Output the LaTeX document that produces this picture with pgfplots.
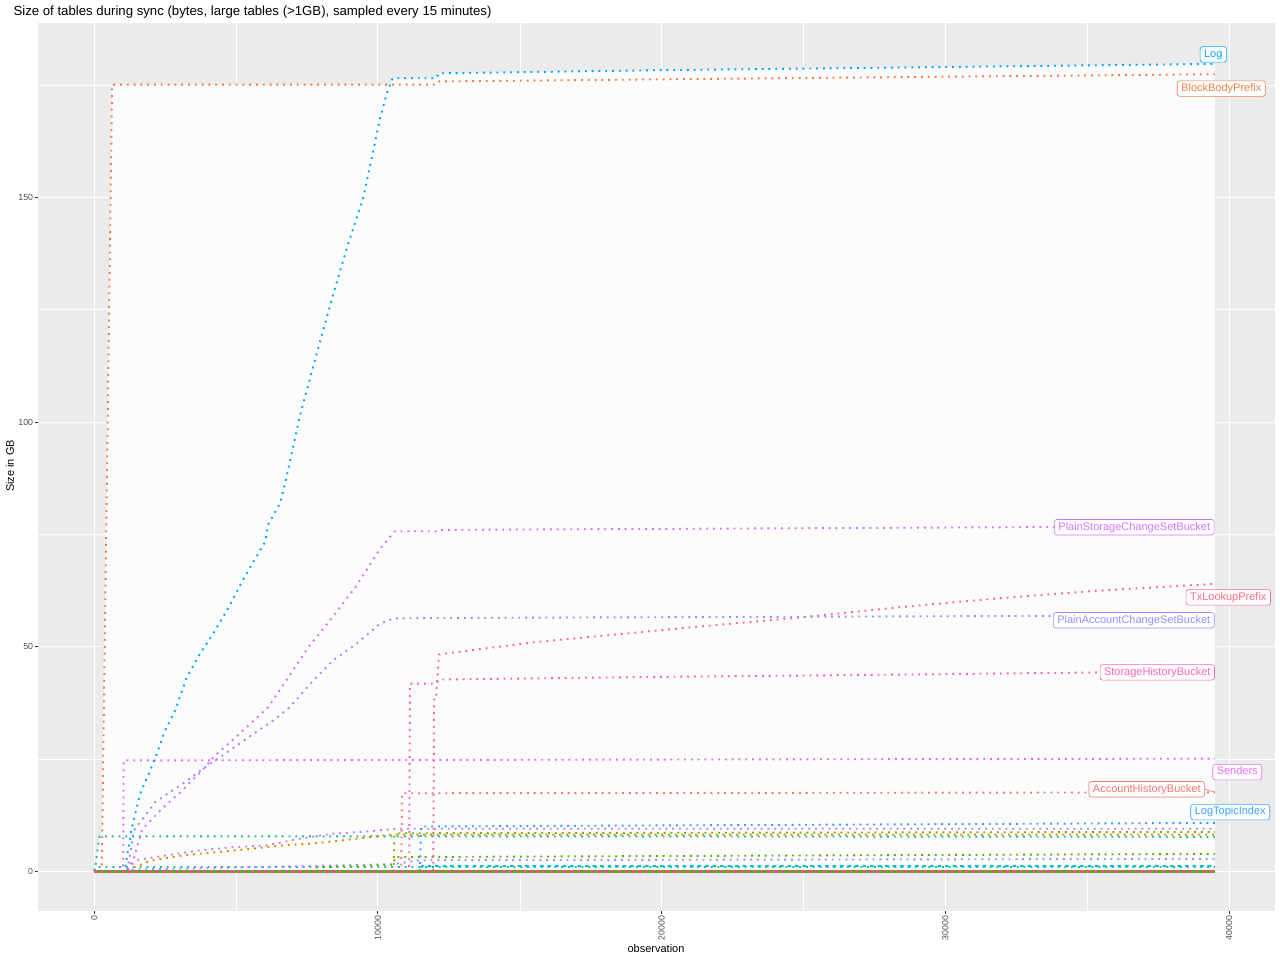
\documentclass[border=0pt]{standalone}
\usepackage{fontspec}
\setmainfont{Liberation Sans}
\usepackage{pgfplots}
\pgfplotsset{compat=1.18}
\definecolor{panelbg}{HTML}{EBEBEB}
\definecolor{tickc}{HTML}{333333}
\definecolor{ticktxt}{HTML}{4D4D4D}
\definecolor{cAHB}{HTML}{F8766D}
\definecolor{cBBP}{HTML}{EE7F45}
\definecolor{cLog}{HTML}{00A9FF}
\definecolor{cLTI}{HTML}{35A2FF}
\definecolor{cPAC}{HTML}{9590FF}
\definecolor{cPSC}{HTML}{D376FF}
\definecolor{cSnd}{HTML}{E76BF3}
\definecolor{cSHB}{HTML}{FF62BC}
\definecolor{cTxL}{HTML}{FC6C85}
\definecolor{cTeal}{HTML}{1DBB9B}
\definecolor{cOrg}{HTML}{E08A00}
\definecolor{cVio}{HTML}{C27DFF}
\definecolor{cVio2}{HTML}{A88AFF}
\definecolor{cGrn}{HTML}{7CAE00}
\definecolor{cGrn2}{HTML}{53B400}
\definecolor{cCyan}{HTML}{00BCD8}
\definecolor{cPink}{HTML}{F1508E}
\definecolor{envfill}{HTML}{FCFCFC}
\tikzset{
  dotl/.style={line width=1.9pt, dash pattern=on 1.9pt off 4.9pt, line join=round},
  lbl/.style={draw=#1, text=#1, fill=white, rounded corners=2.5pt, line width=0.6pt,
     inner xsep=4pt, inner ysep=2.6pt, text height=8pt, text depth=2.3pt,
     font=\fontsize{11}{13}\selectfont},
}
\begin{document}
\begin{tikzpicture}
\path[use as bounding box] (0,0) rectangle (1280pt,960pt);
\begin{axis}[
  at={(38pt,49pt)}, anchor=south west,
  scale only axis, width=1237pt, height=888pt,
  xmin=-1982, xmax=41618, ymin=-8.8, ymax=188.8,
  axis background/.style={fill=panelbg},
  axis line style={draw=none},
  grid=both,
  major grid style={white, line width=1.07pt},
  minor grid style={white, line width=0.53pt},
  xtick={0,10000,20000,30000,40000},
  minor xtick={5000,15000,25000,35000},
  ytick={0,50,100,150},
  minor ytick={25,75,125,175},
  xticklabels={0,10000,20000,30000,40000},
  yticklabels={0,50,100,150},
  scaled x ticks=false, scaled y ticks=false,
  xtick pos=bottom, ytick pos=left,
  tick style={draw=tickc, line width=1.07pt},
  tick align=outside, major tick length=2.75pt, minor tick length=0pt,
  ticklabel style={font=\fontsize{8.8}{10}\selectfont, text=ticktxt},
  xticklabel style={rotate=90, anchor=east, inner sep=2pt},
  yticklabel style={anchor=east, inner sep=2pt},
  clip=false,
]
% envelope of all series (dense light overlay)
\addplot[fill=envfill, draw=none] coordinates {
 (0,0) (190,7.8) (265,7.8) (630,175.1) (10450,175.1) (10517,176.5) (12050,176.5)
 (12150,177.6) (20000,178.3) (30000,179.0) (39500,179.7) (39500,0)} -- cycle;

% small tables near zero
\addplot[dotl, cTeal] coordinates {(0,0) (60,2) (120,5) (190,7.8) (20000,7.8) (39500,7.7)};
\addplot[dotl, cTeal] coordinates {(0,0.2) (60,1.0) (39500,1.0)};
\addplot[line width=1.9pt, dash pattern=on 3.5pt off 4pt, cCyan] coordinates {(0,0) (11500,0) (11550,1.2) (39500,1.2)};
\addplot[dotl, cVio2] coordinates {(1100,0) (1200,0.4) (10500,1.6) (11500,2.5) (39500,2.8)};
\addplot[dotl, cGrn2] coordinates {(7800,0.9) (10550,1.5) (10600,3.2) (39500,3.9)};
\addplot[dotl, cOrg] coordinates {(0,0) (1200,0) (1327,0.7) (1972,2.4) (3146,3.6) (4320,4.3) (5493,5.0) (6667,5.8) (7840,6.3) (9014,7.1) (10306,8.1) (10700,8.2) (39500,8.2)};
\addplot[dotl, cVio] coordinates {(0,0) (1100,0) (1300,1.5) (1561,2.6) (2559,3.6) (3732,4.7) (4906,5.4) (6080,5.8) (7254,7.3) (8427,8.4) (9601,8.9) (10657,9.5) (39500,9.5)};
\addplot[dotl, cGrn] coordinates {(0,0) (10550,0) (10580,8.0) (10700,8.5) (39500,8.8)};
\addplot[dotl, cLTI] coordinates {(0,0) (11480,0) (11520,10.0) (39500,10.8)};

% large tables
\addplot[dotl, cAHB] coordinates {(0,0) (10820,0) (10850,17.4) (39500,17.6)};
\addplot[dotl, cSnd] coordinates {(0,0) (1020,0) (1035,24.7) (39500,25.1)};
\addplot[dotl, cSHB] coordinates {(0,0) (11100,0) (11130,41.8) (12050,41.8) (12150,42.7) (20000,43.3) (30000,43.9) (39500,44.6)};
\addplot[dotl, cTxL] coordinates {(0,0) (11950,0) (11980,38.7) (12050,38.7) (12150,48.3) (15490,51.0) (21340,54.5) (24860,56.5) (28380,58.8) (31900,60.8) (35420,62.5) (39500,64.0)};
\addplot[dotl, cPAC] coordinates {(0,0) (1150,0) (1200,1.5) (1300,5.0) (1385,9.0) (2148,15.4) (3204,19.9) (4085,24.0) (4613,26.2) (5610,30.6) (6314,33.6) (6901,36.6) (7722,42.5) (8427,47.0) (9249,50.7) (10070,55.1) (10539,56.3) (12050,56.4) (39500,57.0)};
\addplot[dotl, cPSC] coordinates {(0,0) (1150,0) (1400,3.0) (1678,9.2) (2265,13.2) (3028,17.6) (3849,22.8) (4261,25.8) (5376,32.1) (6138,36.6) (6725,42.1) (7546,49.9) (8310,55.9) (9249,63.6) (10070,71.8) (10599,75.7) (12050,75.7) (12150,76.0) (39500,76.8)};
\addplot[dotl, cBBP] coordinates {(0,0) (265,0) (630,175.1) (12050,175.1) (12150,175.8) (39500,177.4)};
\addplot[dotl, cLog] coordinates {(0,0) (1000,0) (1090,0.9) (1327,9.8) (1620,17.3) (1972,22.5) (2207,26.2) (2500,31.4) (2852,35.8) (3264,43.2) (3732,48.5) (4202,53.0) (4671,58.0) (5258,65.1) (5845,71.4) (6021,73.3) (6138,77.3) (6549,81.9) (6725,86.3) (7254,101.5) (7840,115.2) (8427,128.5) (8914,138.9) (9484,150.0) (9835,160.4) (10070,167.5) (10306,173.0) (10517,176.5) (12050,176.5) (12150,177.6) (20000,178.3) (30000,179.0) (39500,179.7)};
\addplot[line width=2.6pt, dash pattern=on 3.4pt off 3.4pt, dash phase=3.4pt, cGrn2] coordinates {(0,0) (39500,0)};
\addplot[line width=2.6pt, dash pattern=on 3.4pt off 3.4pt, cPink] coordinates {(0,0) (39500,0)};

% labels
\draw[cAHB, line width=0.6pt] (axis cs:39150,18.3) -- (axis cs:39500,17.6);
\node[lbl=cLog] at (axis cs:39443,181.8) {Log};
\node[lbl=cBBP] at (axis cs:39725,174.2) {BlockBodyPrefix};
\node[lbl=cPSC] at (axis cs:36658,76.6) {PlainStorageChangeSetBucket};
\node[lbl=cTxL] at (axis cs:39972,61.0) {TxLookupPrefix};
\node[lbl=cPAC] at (axis cs:36641,55.9) {PlainAccountChangeSetBucket};
\node[lbl=cSHB] at (axis cs:37469,44.3) {StorageHistoryBucket};
\node[lbl=cSnd] at (axis cs:40289,22.1) {Senders};
\node[lbl=cAHB] at (axis cs:37099,18.3) {AccountHistoryBucket};
\node[lbl=cLTI] at (axis cs:40042,13.2) {LogTopicIndex};
\end{axis}
\node[anchor=base west, font=\fontsize{13.2}{15}\selectfont] at (10pt,944pt) {Size of tables during sync (bytes, large tables (>1GB), sampled every 15 minutes)};
\node[anchor=base, font=\fontsize{11}{13}\selectfont] at (656pt,7pt) {observation};
\node[anchor=base, rotate=90, font=\fontsize{11}{13}\selectfont] at (14pt,494pt) {Size in GB};
\end{tikzpicture}
\end{document}
